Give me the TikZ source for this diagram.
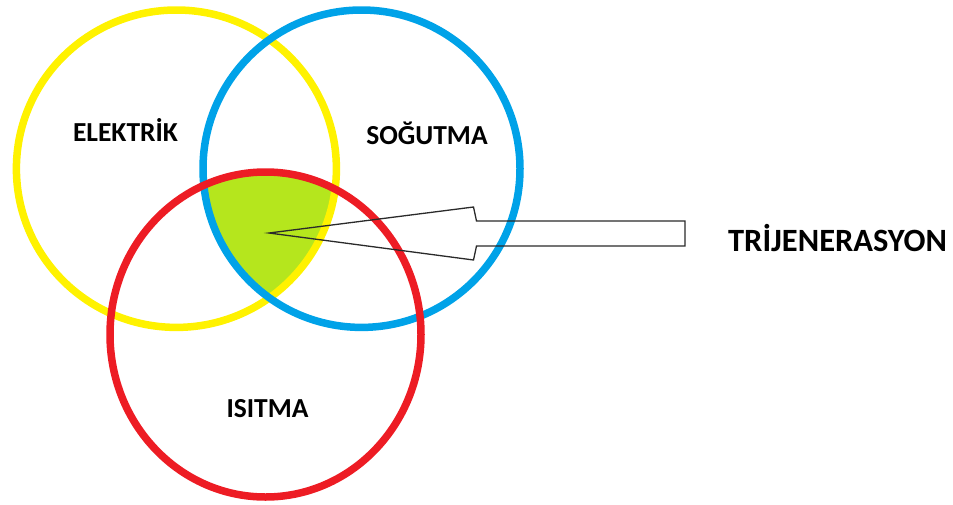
\documentclass[tikz,border=0pt]{standalone}
\usepackage{fontspec}
\setmainfont{Carlito}
\definecolor{ringyellow}{HTML}{FFF200}
\definecolor{ringblue}{HTML}{00A2E8}
\definecolor{ringred}{HTML}{ED1C24}
\definecolor{coregreen}{HTML}{B5E61D}
\definecolor{outline}{HTML}{2A2A2A}
\tikzset{
  ring/.style={line width=7.5pt},
  label/.style={font=\bfseries\fontsize{27.5}{30}\selectfont, text=black, inner sep=0pt},
  biglabel/.style={font=\bfseries\fontsize{32.5}{36}\selectfont, text=black, inner sep=0pt},
  pointer/.style={draw=outline, line width=1.3pt, line join=miter}
}
\begin{document}
\begin{tikzpicture}[x=1pt, y=-1pt]
  \useasboundingbox (0,0) rectangle (953,504);

  % centres of the three sets
  \coordinate (cE) at (176.4,168.7);
  \coordinate (cS) at (361.5,168.7);
  \coordinate (cI) at (265.5,334.5);

  % common part of all three sets
  \begin{scope}
    \clip (cE) ellipse [x radius=160, y radius=158.7];
    \clip (cS) ellipse [x radius=158.5, y radius=158.7];
    \fill[coregreen] (cI) ellipse [x radius=155.5, y radius=162.5];
  \end{scope}

  % the three rings
  \draw[ring, ringyellow] (cE) ellipse [x radius=160, y radius=158.7];
  \draw[ring, ringblue]   (cS) ellipse [x radius=158.5, y radius=158.7];
  \draw[ring, ringred]    (cI) ellipse [x radius=155.5, y radius=162.5];

  % set names
  \node[label] (elektrik) at (125.5,130) {ELEKTRİK};
  \node[label] (sogutma)  at (427,133)   {SOĞUTMA};
  \node[label] (isitma)   at (267.5,408.5) {ISITMA};
  \node[biglabel] (trij)  at (837.5,238) {TRİJENERASYON};

  % hollow block arrow pointing into the common part
  \coordinate (tip) at (269,233);
  \draw[pointer] (tip) -- (473.5,207) -- (476.5,221) -- (685,221)
    -- (685,246) -- (476.5,246) -- (473.5,260) -- cycle;
\end{tikzpicture}
\end{document}
